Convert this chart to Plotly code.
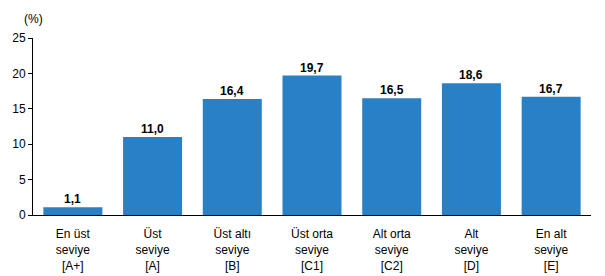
import plotly.graph_objects as go

categories = ["En üst<br>seviye<br>[A+]", "Üst<br>seviye<br>[A]", "Üst altı<br>seviye<br>[B]",
              "Üst orta<br>seviye<br>[C1]", "Alt orta<br>seviye<br>[C2]", "Alt<br>seviye<br>[D]",
              "En alt<br>seviye<br>[E]"]
values = [1.1, 11.0, 16.4, 19.7, 16.5, 18.6, 16.7]
value_labels = [f"{v:.1f}".replace(".", ",") for v in values]
y_ticks = [0, 5, 10, 15, 20, 25]

FONT = "Liberation Sans, Arial, sans-serif"

fig = go.Figure(go.Bar(
    x=categories, y=values,
    marker=dict(color="#2980c4", line=dict(width=0)),
))

annotations = [dict(x=c, y=v, text=t, xref="x", yref="y", xanchor="center", yanchor="bottom",
                    yshift=-1, showarrow=False,
                    font=dict(family=FONT, size=12, color="#000000", weight="bold"))
               for c, v, t in zip(categories, values, value_labels)]
annotations.append(dict(text="(%)", xref="paper", yref="paper", x=0, y=1, xanchor="center",
                        yanchor="bottom", yshift=10, showarrow=False,
                        font=dict(family=FONT, size=12, color="#000000")))

fig.update_layout(
    width=605, height=276,
    margin=dict(l=33, r=14, t=38, b=61),
    paper_bgcolor="white", plot_bgcolor="white",
    bargap=0.26,
    showlegend=False,
    font=dict(family=FONT, size=12, color="#000000"),
    xaxis=dict(showline=True, linecolor="#000000", linewidth=1, ticks="",
               ticklabelstandoff=8, automargin=False,
               tickfont=dict(family=FONT, size=12, color="#000000"), fixedrange=True),
    yaxis=dict(range=[0, 25], tickvals=y_ticks, showgrid=False, zeroline=False,
               showline=True, linecolor="#000000", linewidth=1, automargin=False,
               ticks="outside", ticklen=4, tickcolor="#000000",
               tickfont=dict(family=FONT, size=12, color="#000000")),
    annotations=annotations,
)

fig.write_html("out.html")
